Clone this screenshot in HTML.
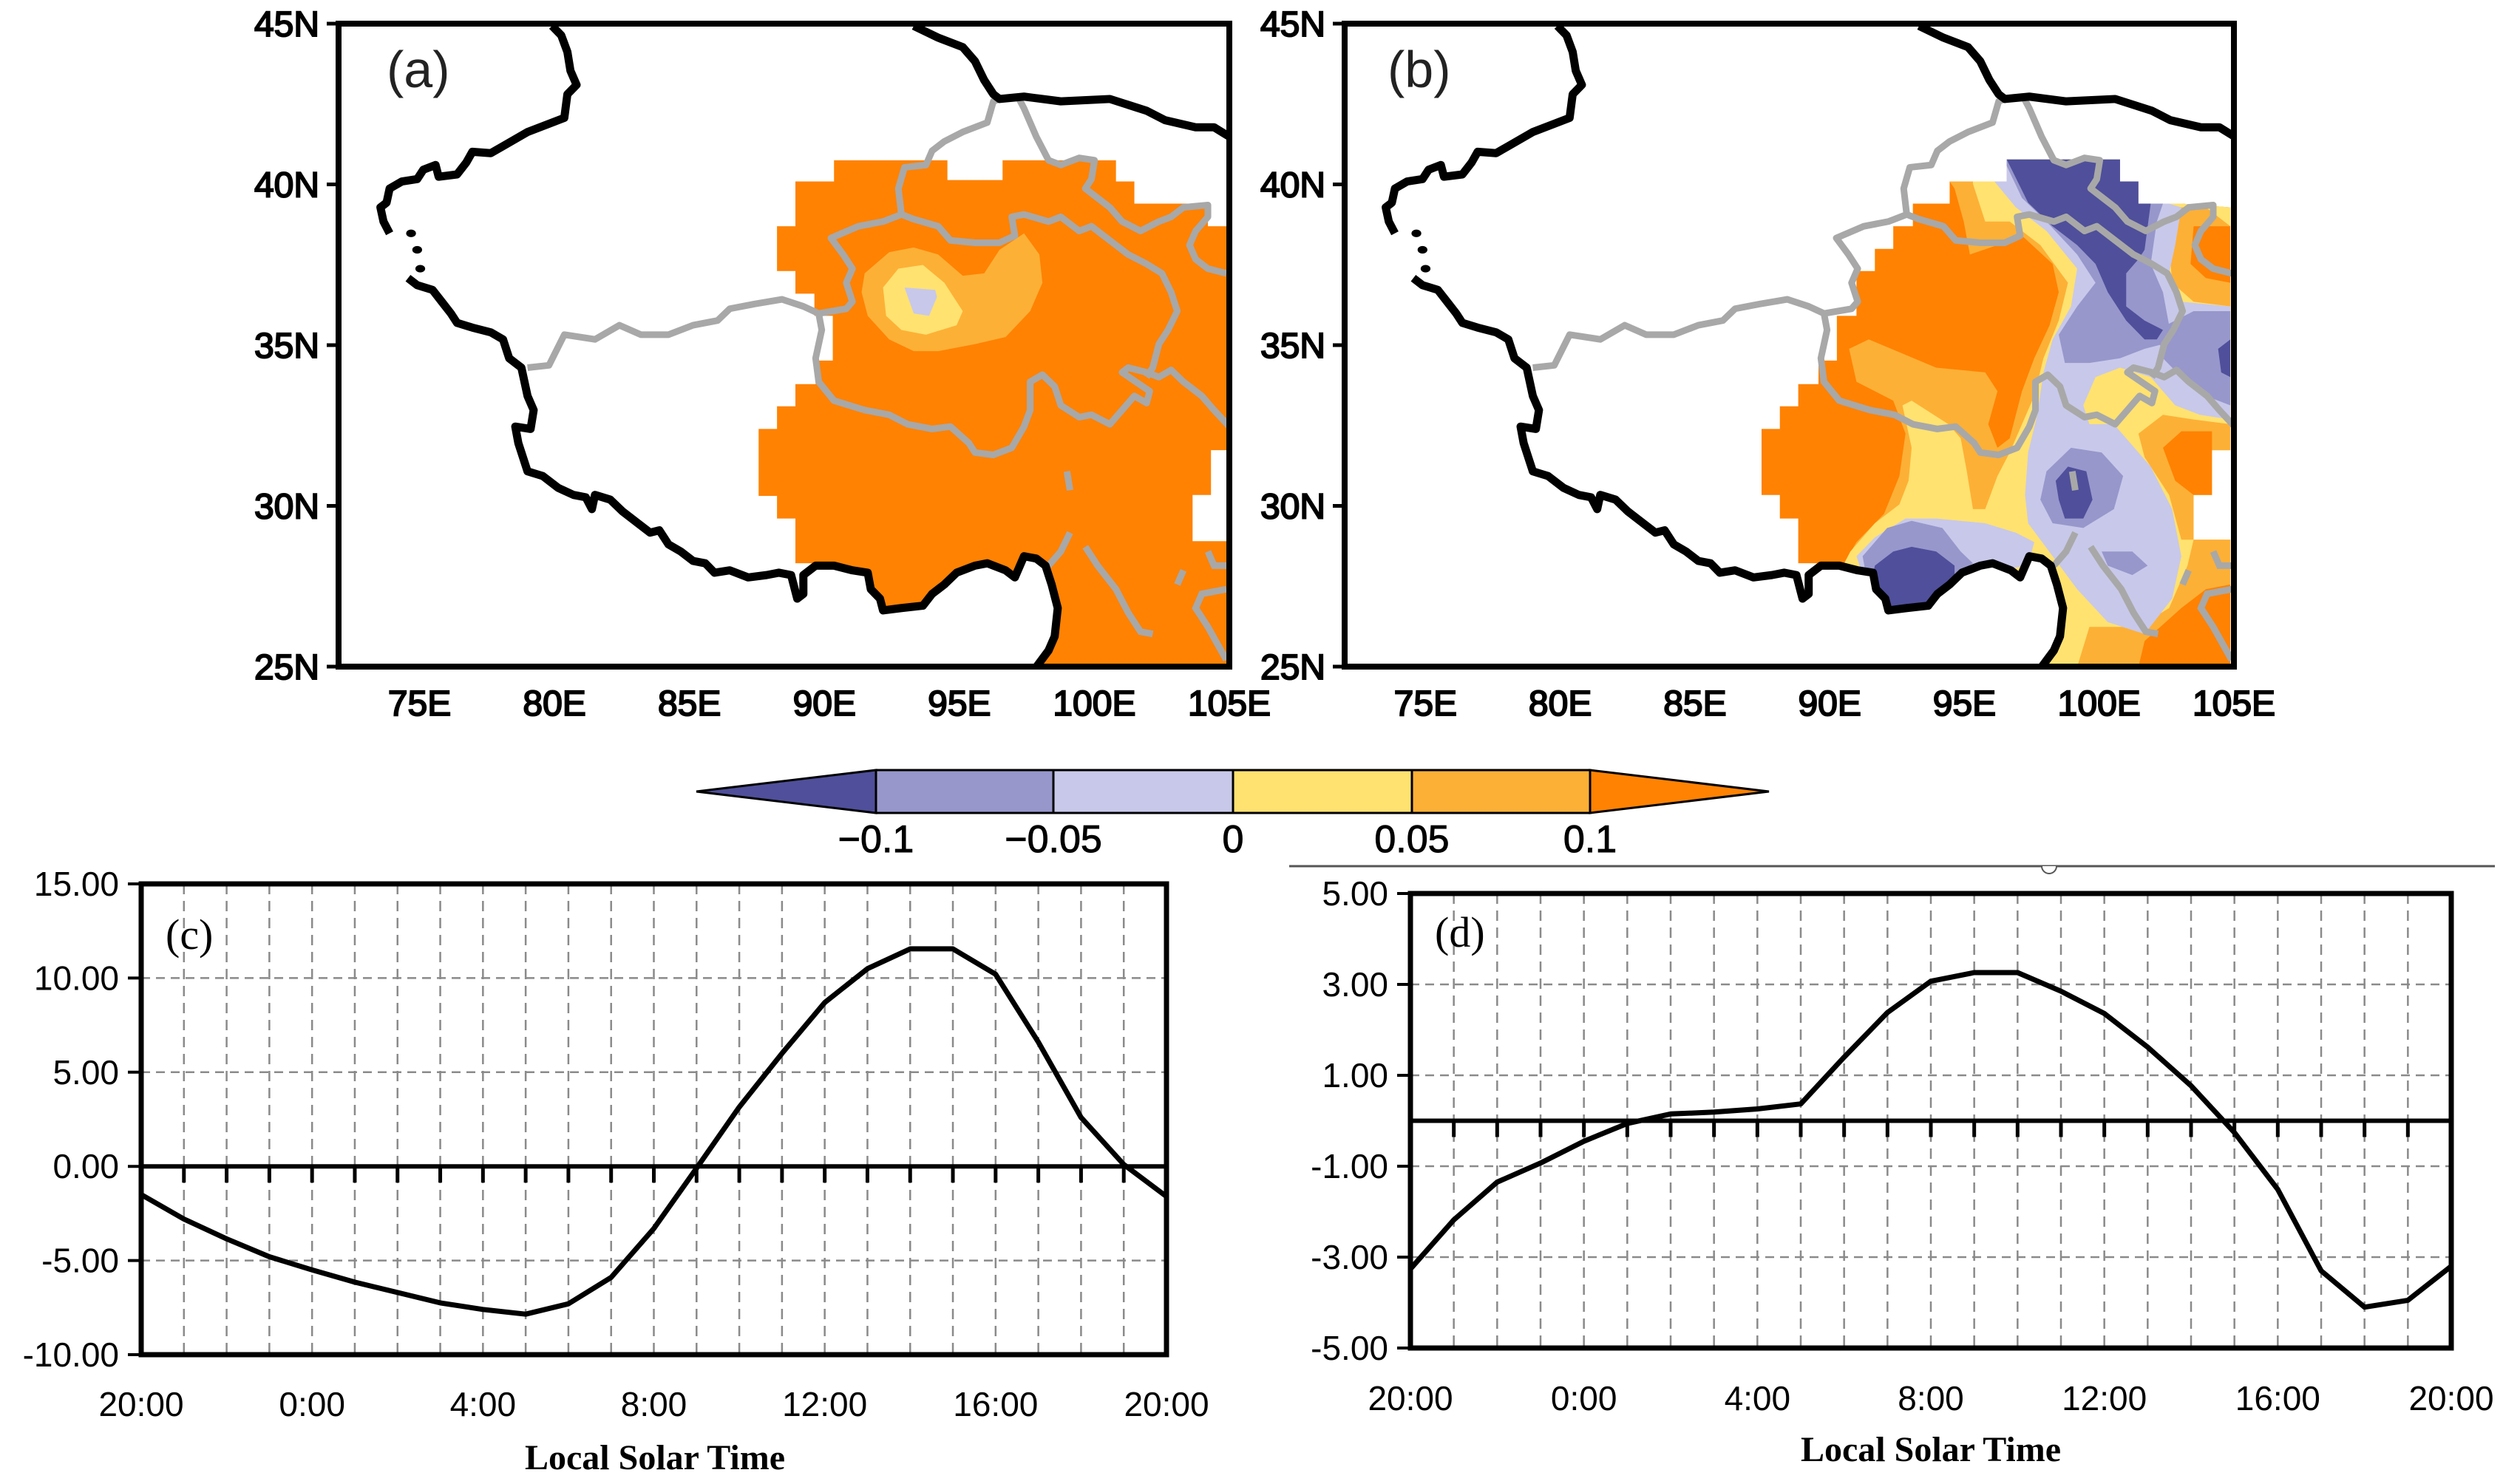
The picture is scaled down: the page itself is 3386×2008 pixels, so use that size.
<!DOCTYPE html>
<html><head><meta charset="utf-8">
<style>
html,body{margin:0;padding:0;background:#fff;}
svg{display:block;}
text{font-family:"Liberation Sans",sans-serif;}
.ser{font-family:"Liberation Serif",serif;}
</style></head>
<body>
<svg id="fig" width="3386" height="2008" viewBox="0 0 3386 2008" xmlns="http://www.w3.org/2000/svg">
<defs>
  <clipPath id="clipA"><rect x="22" y="50" width="1453" height="1365"/></clipPath>
  <clipPath id="clipB"><rect x="35" y="50" width="1450" height="1365"/></clipPath>
  <clipPath id="regB"><polygon points="1115,338 1300,338 1300,385 1330,385 1330,432 1400,432 1480,440 1480,955 1450,955 1450,1050 1420,1050 1420,1145 1480,1145 1480,1415 1175,1415 1197,1350 1208,1290 1198,1240 1188,1200 1173,1185 1153,1180 1138,1225 1123,1210 1093,1195 1073,1200 1043,1215 1003,1260 988,1285 953,1290 923,1295 918,1270 903,1250 898,1215 873,1210 843,1200 813,1195 775,1195 775,1100 745,1100 745,1050 715,1050 715,910 745,910 745,862 775,862 775,815 808,815 808,765 838,765 838,670 870,670 870,575 900,575 900,528 930,528 930,480 962,480 962,432 1022,432 1022,385 1115,385"/></clipPath>
  <g id="borders">
    <polyline fill="none" stroke="#a8a8a8" stroke-width="9" vector-effect="non-scaling-stroke" stroke-linejoin="round" points="330,780 365,775 390,710 440,720 480,690 515,710 560,710 600,690 640,680 660,655 700,645 745,635 780,650 805,665 810,700 800,760 805,810 830,850 880,870 920,880 950,900 990,910 1020,905 1050,940 1060,960 1090,965 1120,950 1140,905 1150,870 1150,810 1170,795 1190,820 1200,860 1230,885 1250,880 1280,900 1300,870 1320,840 1340,855 1345,830 1300,790 1310,780 1340,790 1360,800 1380,785 1400,810 1430,840 1450,870 1475,905"/>
    <polyline fill="none" stroke="#a8a8a8" stroke-width="9" vector-effect="non-scaling-stroke" stroke-linejoin="round" points="805,665 850,655 860,640 850,600 860,570 845,540 825,505 870,480 910,470 940,455 960,465 1000,480 1020,510 1060,515 1100,515 1125,500 1120,460 1140,455 1180,470 1200,460 1230,490 1250,480 1270,500 1310,540 1340,560 1365,580 1380,620 1390,660 1375,700 1360,730 1350,780 1340,800"/>
    <polyline fill="none" stroke="#a8a8a8" stroke-width="9" vector-effect="non-scaling-stroke" stroke-linejoin="round" points="940,455 935,400 945,355 980,350 990,320 1010,300 1040,280 1060,270 1080,260 1090,215 1100,210"/>
    <polyline fill="none" stroke="#a8a8a8" stroke-width="9" vector-effect="non-scaling-stroke" stroke-linejoin="round" points="1130,205 1140,230 1160,290 1180,340 1200,350 1230,335 1255,340 1250,380 1240,400 1260,420 1280,440 1300,470 1330,490 1360,470 1380,460 1400,440 1440,435 1440,460 1420,490 1410,520 1420,550 1440,570 1470,580"/>
    <polyline fill="none" stroke="#a8a8a8" stroke-width="9" vector-effect="non-scaling-stroke" points="1210,1000 1215,1040"/>
    <polyline fill="none" stroke="#a8a8a8" stroke-width="9" vector-effect="non-scaling-stroke" points="1215,1130 1200,1170 1180,1200"/>
    <polyline fill="none" stroke="#a8a8a8" stroke-width="9" vector-effect="non-scaling-stroke" points="1240,1160 1260,1200 1290,1250 1310,1300 1330,1340 1350,1345"/>
    <polyline fill="none" stroke="#a8a8a8" stroke-width="9" vector-effect="non-scaling-stroke" points="1440,1170 1450,1200 1470,1200"/>
    <polyline fill="none" stroke="#a8a8a8" stroke-width="9" vector-effect="non-scaling-stroke" points="1470,1250 1430,1260 1420,1290 1440,1330 1470,1400"/>
    <polyline fill="none" stroke="#a8a8a8" stroke-width="9" vector-effect="non-scaling-stroke" points="1400,1210 1390,1240"/>
    <polyline fill="none" stroke="#000" stroke-width="11" vector-effect="non-scaling-stroke" stroke-linejoin="round" points="370,55 385,75 395,110 400,150 410,180 395,200 390,250 370,260 330,280 290,310 270,325 240,322 230,345 215,370 185,375 180,350 160,360 150,380 125,385 105,400 100,430 90,440 95,470 105,495"/>
    <circle cx="140" cy="495" r="8" fill="#000"/><circle cx="150" cy="530" r="8" fill="#000"/><circle cx="155" cy="570" r="8" fill="#000"/>
    <polyline fill="none" stroke="#000" stroke-width="11" vector-effect="non-scaling-stroke" stroke-linejoin="round" points="135,590 150,605 175,615 190,640 205,665 215,685 240,695 270,705 290,720 300,760 320,780 325,810 330,840 340,870 335,910 310,905 315,940 325,980 330,1000 355,1010 380,1035 405,1050 425,1055 435,1080 440,1050 465,1060 485,1085 510,1110 530,1130 545,1125 560,1155 580,1170 600,1190 620,1195 635,1215 660,1210 690,1225 720,1220 740,1215 760,1220 770,1270 780,1260 780,1220 800,1200 830,1200 860,1210 885,1215 890,1250 905,1270 910,1295 940,1290 975,1285 990,1260 1010,1240 1030,1215 1060,1200 1080,1195 1110,1210 1125,1225 1140,1180 1160,1185 1175,1200 1185,1240 1195,1290 1190,1350 1180,1380 1160,1415"/>
    <polyline fill="none" stroke="#000" stroke-width="11" vector-effect="non-scaling-stroke" stroke-linejoin="round" points="960,55 1000,80 1040,100 1060,130 1075,170 1090,200 1100,210 1140,205 1200,215 1280,210 1340,235 1370,255 1420,270 1450,270 1475,290"/>
  </g>
</defs>
<rect width="3386" height="2008" fill="#fff"/>

<!-- MAP A -->
<g>
  <g transform="translate(440,0) scale(0.8292,0.6378)">
    <g clip-path="url(#clipA)">
      <polygon fill="#ff8203" points="830,340 1015,340 1015,382 1105,382 1105,340 1290,340 1290,385 1320,385 1320,432 1440,432 1440,480 1472,480 1472,955 1445,955 1445,1050 1415,1050 1415,1148 1472,1148 1472,1415 1170,1415 1190,1350 1195,1290 1185,1240 1175,1200 1160,1185 1140,1180 1125,1225 1110,1210 1080,1195 1060,1200 1030,1215 990,1260 975,1285 940,1290 910,1295 905,1270 890,1250 885,1215 860,1210 830,1200 800,1195 767,1195 767,1100 737,1100 737,1052 707,1052 707,910 737,910 737,862 767,862 767,815 800,815 800,765 828,765 828,670 798,670 798,623 767,623 767,575 737,575 737,480 767,480 767,385 830,385"/>
      <polygon fill="#fdb036" points="880,580 920,535 960,525 1000,540 1040,585 1075,580 1100,530 1140,495 1165,540 1170,600 1150,660 1110,715 1060,730 1000,745 960,745 920,720 885,670 875,620"/>
      <polygon fill="#ffe270" points="910,610 935,570 975,562 1010,600 1040,660 1030,690 980,710 940,700 915,670"/>
      <polygon fill="#c8c8ea" points="945,610 995,615 998,630 985,670 960,665"/>
      <use href="#borders"/>
    </g>
  </g>
  <rect x="458" y="32" width="1205" height="870" fill="none" stroke="#000" stroke-width="8"/>
  <text x="523" y="118" font-size="70" fill="#222">(a)</text>
</g>

<!-- MAP B -->
<g>
  <g transform="translate(1790,0) scale(0.8292,0.6378)">
    <g clip-path="url(#clipB)">
      <g clip-path="url(#regB)">
        <rect x="600" y="300" width="900" height="1150" fill="#ff8203"/>
        <polygon fill="#fdb036" points="1022,338 1022,385 1030,400 1045,470 1055,540 1100,520 1140,500 1190,560 1200,620 1185,690 1160,760 1140,830 1120,930 1100,950 1085,900 1100,830 1080,790 1000,780 890,720 858,740 870,810 930,850 950,920 940,1010 915,1090 870,1150 850,1195 850,1420 1500,1420 1500,300 1022,300"/>
        <polygon fill="#ffe270" points="1060,300 1060,390 1080,470 1120,470 1170,520 1215,600 1200,680 1175,760 1160,840 1140,900 1120,960 1100,1010 1080,1080 1060,1080 1050,1000 1040,930 1020,900 960,850 945,860 960,950 955,1020 940,1070 900,1110 860,1170 850,1195 850,1420 1500,1420 1500,300"/>
        <polygon fill="#fdb036" points="1230,1415 1250,1330 1330,1330 1380,1290 1410,1200 1420,1145 1480,1145 1480,1415"/>
        <polygon fill="#ff8203" points="1330,1415 1340,1360 1400,1290 1440,1250 1480,1240 1480,1415"/>
        <polygon fill="#fdb036" points="1330,920 1370,880 1420,890 1480,900 1480,955 1450,955 1450,1050 1420,1050 1420,1145 1400,1145 1380,1050 1340,970"/>
        <polygon fill="#ff8203" points="1370,950 1400,915 1450,915 1450,1050 1420,1050 1390,1020"/>
        <polygon fill="#fdb036" points="1380,440 1440,440 1480,480 1480,650 1420,640 1385,600 1380,520"/>
        <polygon fill="#ff8203" points="1420,480 1480,480 1480,600 1440,590 1415,560"/>
        <polygon fill="#c8c8ea" points="1095,345 1115,338 1300,338 1300,385 1330,385 1330,432 1380,432 1400,440 1390,520 1380,580 1400,640 1480,650 1480,890 1430,880 1390,860 1350,800 1300,780 1260,800 1240,860 1250,900 1290,900 1310,930 1350,990 1385,1080 1400,1180 1385,1270 1340,1345 1280,1320 1230,1250 1190,1180 1150,1110 1145,1050 1150,960 1165,880 1175,790 1190,720 1220,650 1230,570 1180,490 1130,440 1095,385"/>
        <polygon fill="#c8c8ea" points="870,1180 900,1140 950,1100 1000,1100 1080,1110 1130,1130 1160,1150 1150,1200 1050,1220 880,1220"/>
        <polygon fill="#9797cc" points="1110,338 1300,338 1300,385 1330,385 1330,432 1370,432 1360,470 1350,560 1370,620 1380,690 1370,730 1340,740 1300,760 1250,770 1210,770 1200,710 1230,650 1260,600 1230,540 1180,470 1140,420"/>
        <polygon fill="#9797cc" points="1360,700 1420,660 1480,660 1480,860 1440,840 1400,800 1370,760"/>
        <polygon fill="#9797cc" points="1180,1000 1220,950 1270,960 1305,1010 1290,1080 1240,1120 1190,1110 1170,1060"/>
        <polygon fill="#9797cc" points="880,1180 920,1120 960,1105 1010,1120 1040,1170 1060,1195 1030,1220 1000,1260 990,1290 920,1295 905,1260 885,1215"/>
        <polygon fill="#9797cc" points="1270,1170 1320,1170 1345,1200 1320,1220 1280,1200"/>
        <polygon fill="#4f4f9b" points="1115,338 1300,338 1300,385 1330,385 1330,432 1350,432 1340,530 1330,550 1310,580 1310,650 1340,680 1370,700 1360,720 1340,720 1310,680 1280,620 1260,560 1230,520 1190,480 1150,430"/>
        <polygon fill="#4f4f9b" points="1460,740 1480,720 1480,800 1465,790"/>
        <polygon fill="#4f4f9b" points="1195,1020 1215,990 1245,1000 1255,1060 1240,1100 1210,1100 1200,1060"/>
        <polygon fill="#4f4f9b" points="900,1200 930,1170 960,1160 1000,1170 1030,1200 1030,1225 1000,1260 990,1290 920,1295 910,1260 895,1230"/>
      </g>
      <use href="#borders" transform="translate(12,0)"/>
    </g>
  </g>
  <rect x="1819" y="32" width="1203" height="870" fill="none" stroke="#000" stroke-width="8"/>
  <text x="1877" y="118" font-size="70" fill="#222">(b)</text>
</g>

<g id="mapAxes"></g>
<g id="colorbar"></g>
<g id="charts"></g>
</svg>

<script>
// ---------------- Chart data ----------------
const hourLabels = ['20:00','0:00','4:00','8:00','12:00','16:00','20:00'];
const seriesC = [-1.5,-2.8,-3.85,-4.8,-5.5,-6.15,-6.7,-7.25,-7.6,-7.85,-7.3,-5.9,-3.3,-0.1,3.15,6.0,8.7,10.5,11.55,11.55,10.2,6.6,2.6,0.1,-1.6];
const seriesD = [-3.26,-2.18,-1.35,-0.93,-0.45,-0.06,0.15,0.19,0.26,0.37,1.4,2.38,3.07,3.26,3.26,2.85,2.36,1.62,0.77,-0.26,-1.51,-3.3,-4.1,-3.95,-3.2];
const yTicksC = [15,10,5,0,-5,-10];
const yTickLabelsC = ['15.00','10.00','5.00','0.00','-5.00','-10.00'];
const yTicksD = [5,3,1,-1,-3,-5];
const yTickLabelsD = ['5.00','3.00','1.00','-1.00','-3.00','-5.00'];
const latTicks = [45,40,35,30,25];
const lonTicks = [75,80,85,90,95,100,105];
const cbarLabels = ['\u22120.1','\u22120.05','0','0.05','0.1'];
const cbarColors = ['#4f4f9b','#9797cc','#c8c8ea','#ffe270','#fdb036','#ff8203'];

const NS = 'http://www.w3.org/2000/svg';
function mk(tag, attrs, parent){
  const e = document.createElementNS(NS, tag);
  for (const k in attrs) e.setAttribute(k, attrs[k]);
  parent.appendChild(e); return e;
}

// ---------------- Map axes ----------------
const mapAxes = document.getElementById('mapAxes');
[[458,1663],[1819,3022]].forEach(function(fr, mi){
  const lonX = function(l){ return fr[0] + (l-72)/33*(fr[1]-fr[0]); };
  const latY = function(l){ return 32 + (45-l)/20*870; };
  latTicks.forEach(function(la){
    const t = mk('text',{x:fr[0]-26,y:latY(la)+17,'font-size':48,'text-anchor':'end',fill:'#000',stroke:'#000','stroke-width':2}, mapAxes);
    
    
    t.textContent = la + 'N';
    const k = mk('line',{x1:fr[0]-16,x2:fr[0],y1:latY(la),y2:latY(la),stroke:'#000','stroke-width':5}, mapAxes);
    
    
  });
  lonTicks.forEach(function(lo){
    const t = mk('text',{x:lonX(lo),y:968,'font-size':48,'text-anchor':'middle',fill:'#000',stroke:'#000','stroke-width':2}, mapAxes);
    
    
    t.textContent = lo + 'E';
  });
});

// ---------------- Colorbar ----------------
const cb = document.getElementById('colorbar');


const cbEdges = [942,1185,1425,1668,1910,2151,2393];
const cbTop = 1042, cbBot = 1100, cbMid = 1071;
cbarColors.forEach(function(c, i){
  let el;
  if (i === 0) el = mk('polygon',{points:`${cbEdges[0]},${cbMid} ${cbEdges[1]},${cbTop} ${cbEdges[1]},${cbBot}`,fill:c,stroke:'#000','stroke-width':3}, cb);
  else if (i === cbarColors.length-1) el = mk('polygon',{points:`${cbEdges[i]},${cbTop} ${cbEdges[i+1]},${cbMid} ${cbEdges[i]},${cbBot}`,fill:c,stroke:'#000','stroke-width':3}, cb);
  else el = mk('rect',{x:cbEdges[i],y:cbTop,width:cbEdges[i+1]-cbEdges[i],height:cbBot-cbTop,fill:c,stroke:'#000','stroke-width':3}, cb);
  
  
});
cbarLabels.forEach(function(l, i){
  const t = mk('text',{x:cbEdges[i+1],y:1153,'font-size':52,'text-anchor':'middle',fill:'#000',stroke:'#000','stroke-width':1}, cb);
  
  
  t.textContent = l;
});

// separator line above panel d
const charts = document.getElementById('charts');
const sep = mk('line',{x1:1744,x2:3375,y1:1172,y2:1172,stroke:'#555','stroke-width':3}, charts);


const sepc = mk('path',{d:'M2762,1172 A10,10 0 0 0 2782,1172',fill:'#fff',stroke:'#555','stroke-width':2}, charts);



// ---------------- Line charts ----------------
function drawChart(cfg){
  const g = mk('g',{}, charts);
  
  
  const x = function(h){ return cfg.x0 + h/24*(cfg.x1-cfg.x0); };
  const y = function(v){ return cfg.y0 + (cfg.ymax - v)/(cfg.ymax-cfg.ymin)*(cfg.y1-cfg.y0); };
  for (let h=1; h<24; h++){
    const l = mk('line',{x1:x(h),x2:x(h),y1:cfg.y0,y2:cfg.y1,stroke:'#8a8a8a','stroke-width':2.5,'stroke-dasharray':'14 9'}, g);
    
    
  }
  cfg.ticks.forEach(function(v, i){
    if (v !== 0 && v !== cfg.ymax && v !== cfg.ymin){
      const l = mk('line',{x1:cfg.x0,x2:cfg.x1,y1:y(v),y2:y(v),stroke:'#8a8a8a','stroke-width':2.5,'stroke-dasharray':'12 8'}, g);
      
      
    }
    const tk = mk('line',{x1:cfg.x0-18,x2:cfg.x0,y1:y(v),y2:y(v),stroke:'#000','stroke-width':4}, g);
    
    
    const t = mk('text',{x:cfg.x0-30,y:y(v)+16,'font-size':46,'text-anchor':'end',fill:'#000'}, g);
    
    
    t.textContent = cfg.labels[i];
  });
  const z = mk('line',{x1:cfg.x0,x2:cfg.x1,y1:y(0),y2:y(0),stroke:'#000','stroke-width':6}, g);
  
  
  for (let h=1; h<24; h++){
    const tk = mk('line',{x1:x(h),x2:x(h),y1:y(0),y2:y(0)+22,stroke:'#000','stroke-width':5}, g);
    
    
  }
  const f = mk('rect',{x:cfg.x0,y:cfg.y0,width:cfg.x1-cfg.x0,height:cfg.y1-cfg.y0,fill:'none',stroke:'#000','stroke-width':7}, g);
  
  
  const pts = cfg.data.map(function(v, i){ return x(i).toFixed(1)+','+y(v).toFixed(1); }).join(' ');
  const pl = mk('polyline',{points:pts,fill:'none',stroke:'#000','stroke-width':7,'stroke-linejoin':'round'}, g);
  
  
  hourLabels.forEach(function(l, i){
    const t = mk('text',{x:x(i*4),y:cfg.xly,'font-size':46,'text-anchor':'middle',fill:'#000'}, g);
    
    
    t.textContent = l;
  });
  const tt = mk('text',{x:cfg.titleX,y:cfg.titleY,'font-size':48,'font-weight':'bold','text-anchor':'middle',fill:'#000','class':'ser'}, g);
  
  
  tt.textContent = 'Local Solar Time';
  const pl2 = mk('text',{x:cfg.x0+33,y:cfg.y0+cfg.ply,'font-size':58,fill:'#000','class':'ser'}, g);
  
  
  pl2.textContent = cfg.panel;
}
drawChart({name:'chart-c',panel:'(c)',x0:191,x1:1578,y0:1196,y1:1833,ymax:15,ymin:-10,ticks:yTicksC,labels:yTickLabelsC,data:seriesC,xly:1916,titleX:886,titleY:1988,ply:88});
drawChart({name:'chart-d',panel:'(d)',x0:1908,x1:3316,y0:1209,y1:1824,ymax:5,ymin:-5,ticks:yTicksD,labels:yTickLabelsD,data:seriesD,xly:1908,titleX:2612,titleY:1977,ply:72});
</script>
</body></html>
